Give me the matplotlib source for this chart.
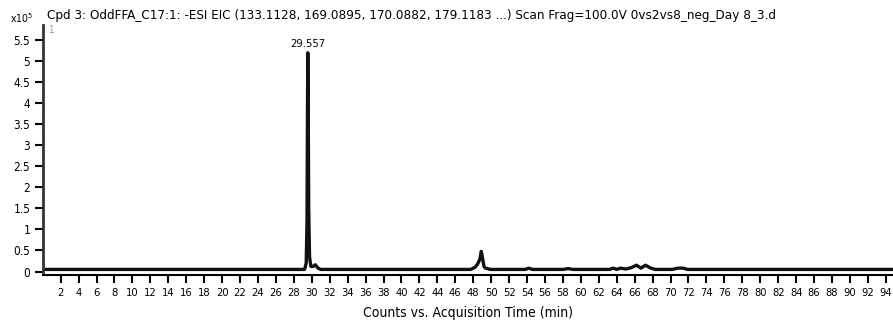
import matplotlib
matplotlib.use('Agg')
import matplotlib.pyplot as plt

plt.rcParams.update({
    'font.family': ['DejaVu Sans'],
    'font.stretch': 'condensed',
    'font.size': 8,
})

# EIC trace (retention time in min, counts in 1e5)
rt_min = [0.0, 29.2, 29.38, 29.47, 29.52, 29.557, 29.6, 29.66, 29.75, 29.9,
          30.15, 30.4, 30.7, 31.0, 47.7, 48.2, 48.5, 48.75, 48.9, 49.05,
          49.2, 49.35, 49.6, 49.9, 53.8, 54.2, 54.6, 58.0, 58.6, 59.1,
          63.2, 63.6, 64.0, 64.4, 65.0, 65.6, 66.2, 66.7, 67.2, 67.8,
          68.3, 70.2, 70.8, 71.4, 71.9, 94.8]
counts_e5 = [0.05, 0.05, 0.2, 1.2, 3.8, 5.2, 4.0, 1.5, 0.35, 0.12,
             0.12, 0.16, 0.08, 0.05, 0.05, 0.1, 0.18, 0.3, 0.48, 0.3,
             0.12, 0.08, 0.07, 0.05, 0.05, 0.08, 0.05, 0.05, 0.07, 0.05,
             0.05, 0.08, 0.05, 0.08, 0.06, 0.09, 0.15, 0.08, 0.15, 0.08,
             0.05, 0.05, 0.08, 0.08, 0.05, 0.05]

peak_rt = 29.557
peak_val = 5.2

x_ticks = list(range(2, 95, 2))
y_ticks = [0, 0.5, 1, 1.5, 2, 2.5, 3, 3.5, 4, 4.5, 5, 5.5]
y_labels = ['0', '0.5', '1', '1.5', '2', '2.5', '3', '3.5', '4', '4.5', '5', '5.5']

title = ('Cpd 3: OddFFA_C17:1: -ESI EIC (133.1128, 169.0895, 170.0882, 179.1183 ...) '
         'Scan Frag=100.0V 0vs2vs8_neg_Day 8_3.d')

fig = plt.figure(figsize=(8.93, 3.24), dpi=100)
ax = fig.add_axes([0.0478, 0.1512, 0.9522, 0.7716])

ax.plot(rt_min, counts_e5, color='#111111', lw=2.4, solid_joinstyle='round')

ax.set_xlim(0, 94.8)
ax.set_ylim(-0.083, 5.86)

ax.spines['top'].set_visible(False)
ax.spines['right'].set_visible(False)
ax.spines['left'].set_bounds(0, 5.86)
ax.spines['left'].set_linewidth(2)
ax.spines['left'].set_color('#333333')
ax.spines['bottom'].set_linewidth(1.5)

ax.set_xticks(x_ticks)
ax.set_xticklabels([str(t) for t in x_ticks], fontsize=8)
ax.set_yticks(y_ticks)
ax.set_yticklabels(y_labels, fontsize=8.5)
ax.tick_params(axis='both', direction='out', length=6, width=1.5, pad=3)

ax.set_xlabel('Counts vs. Acquisition Time (min)', fontsize=10, labelpad=6)

ax.annotate(f'{peak_rt:.3f}', (peak_rt, peak_val), xytext=(0, 3),
            textcoords='offset points', ha='center', va='bottom', fontsize=8)

fig.text(47 / 893, 1 - 15 / 324, title, fontsize=9.6, va='center', ha='left')
fig.text(10 / 893, 1 - 18 / 324, r'x10$^{5}$', fontsize=7.5, va='center', ha='left')
fig.text(48 / 893, 1 - 30 / 324, '1', fontsize=7, color='#999999', va='center', ha='left')

fig.savefig('out.png', dpi=100)
